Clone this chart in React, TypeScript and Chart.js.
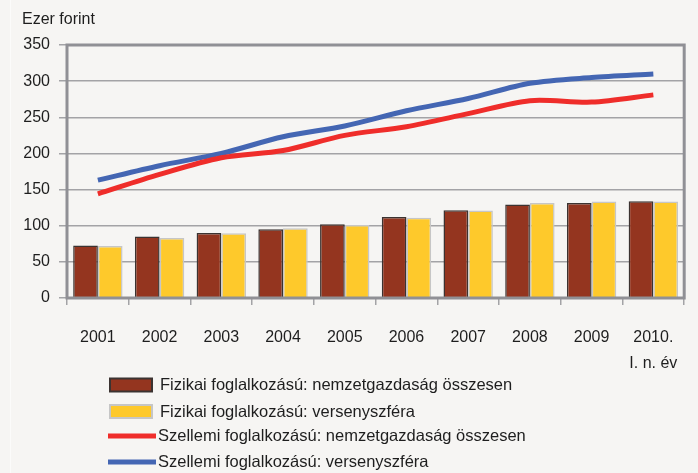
import React, { useEffect, useRef } from "react";
import { Chart, registerables } from "chart.js";

Chart.register(...registerables);

const categories: (string | string[])[] = [
  "2001", "2002", "2003", "2004", "2005", "2006", "2007", "2008", "2009", ["2010.", "I. n. év"],
];

const fizikaiNemzetgazdasag = [72.5, 85, 90, 95, 102, 112, 121.5, 129.5, 131.5, 134];
const fizikaiVersenyszfera = [72, 83, 89.5, 96.5, 101, 111, 121, 131.5, 133.5, 133.5];
const szellemiNemzetgazdasag = [144, 171, 194, 204, 225, 237, 255, 273, 271, 281];
const szellemiVersenyszfera = [163, 183, 200, 223, 238, 259, 276, 297, 305, 310];

const seriesNames = [
  "Fizikai foglalkozású: nemzetgazdaság összesen",
  "Fizikai foglalkozású: versenyszféra",
  "Szellemi foglalkozású: nemzetgazdaság összesen",
  "Szellemi foglalkozású: versenyszféra",
];

const yTicks = [0, 50, 100, 150, 200, 250, 300, 350];
const yTitle = "Ezer forint";

const FONT = '"Liberation Sans", Arial, sans-serif';
const TEXT = "#1e1e1e";
const GRID = "#a3a3a6";
const FRAME = "#909095";

const decor = {
  id: "decor",
  afterDatasetsDraw(chart: any) {
    const { ctx, chartArea } = chart;
    ctx.save();
    ctx.strokeStyle = FRAME;
    ctx.lineWidth = 3;
    ctx.strokeRect(chartArea.left, chartArea.top, chartArea.right - chartArea.left, chartArea.bottom - chartArea.top);
    ctx.restore();
  },
  afterDraw(chart: any) {
    const { ctx } = chart;
    ctx.save();
    ctx.font = `16px ${FONT}`;
    ctx.fillStyle = TEXT;
    ctx.textBaseline = "middle";
    ctx.textAlign = "left";
    ctx.fillText(yTitle, 22, 20);
    const rows = [385, 411.5, 436, 462];
    chart.data.datasets.forEach((ds: any, i: number) => {
      const y = rows[i];
      if (ds.type === "line") {
        ctx.strokeStyle = ds.borderColor;
        ctx.lineWidth = 5;
        ctx.beginPath();
        ctx.moveTo(108, y);
        ctx.lineTo(156, y);
        ctx.stroke();
      } else {
        ctx.fillStyle = ds.backgroundColor;
        ctx.fillRect(110, y - 6.5, 42, 13);
        ctx.strokeStyle = ds.borderColor;
        ctx.lineWidth = 2;
        ctx.strokeRect(110, y - 6.5, 42, 13);
      }
      ctx.fillStyle = TEXT;
      ctx.font = `16.5px ${FONT}`;
      ctx.textAlign = "left";
      ctx.textBaseline = "middle";
      ctx.fillText(ds.label, ds.type === "line" ? 158 : 160, y + 0.5);
    });
    ctx.restore();
  },
};

export default function App() {
  const ref = useRef<HTMLCanvasElement>(null);

  useEffect(() => {
    if (!ref.current) return;
    const chart = new Chart(ref.current, {
      type: "bar",
      data: {
        labels: categories as any,
        datasets: [
          {
            type: "bar",
            label: seriesNames[0],
            data: fizikaiNemzetgazdasag,
            backgroundColor: "#94351f",
            borderColor: "#3b3331",
            borderWidth: 1.5,
            categoryPercentage: 0.8,
            barPercentage: 1,
            order: 2,
          },
          {
            type: "bar",
            label: seriesNames[1],
            data: fizikaiVersenyszfera,
            backgroundColor: "#fec92b",
            borderColor: "#c6c6c6",
            borderWidth: 1.5,
            categoryPercentage: 0.8,
            barPercentage: 1,
            order: 2,
          },
          {
            type: "line",
            label: seriesNames[2],
            data: szellemiNemzetgazdasag,
            borderColor: "#ef2d2a",
            backgroundColor: "#ef2d2a",
            borderWidth: 5,
            pointRadius: 0,
            tension: 0.3,
            order: 1,
          },
          {
            type: "line",
            label: seriesNames[3],
            data: szellemiVersenyszfera,
            borderColor: "#4466b3",
            backgroundColor: "#4466b3",
            borderWidth: 5,
            pointRadius: 0,
            tension: 0.3,
            order: 1,
          },
        ] as any,
      },
      options: {
        responsive: false,
        animation: false,
        devicePixelRatio: 1,
        layout: { padding: { top: 45, right: 13, left: 0, bottom: 0 } },
        plugins: { legend: { display: false }, tooltip: { enabled: false } },
        scales: {
          x: {
            grid: { drawOnChartArea: false, tickLength: 7, color: GRID, lineWidth: 1.5, offset: true },
            border: { display: false },
            ticks: { font: { size: 16, family: FONT, lineHeight: 1.6 }, color: TEXT, padding: 20, maxRotation: 0, autoSkip: false },
            afterFit: (s: any) => { s.height = 175; },
          },
          y: {
            min: 0,
            max: 350,
            afterBuildTicks: (s: any) => { s.ticks = yTicks.map((v) => ({ value: v })); },
            grid: { color: GRID, lineWidth: 1.5, tickLength: 8 },
            border: { display: false },
            ticks: { font: { size: 16, family: FONT }, color: TEXT, padding: 9 },
            afterFit: (s: any) => { s.width = 67; },
          },
        },
      },
      plugins: [decor],
    });
    return () => chart.destroy();
  }, []);

  return (
    <div style={{ position: "absolute", left: 0, top: 0, width: 698, height: 473, background: "#f6f5f3", overflow: "hidden" }}>
      <div style={{ position: "absolute", left: 10, top: 0, width: 1, height: 473, background: "#fbfbfa" }} />
      <canvas ref={ref} width={698} height={473} style={{ display: "block", position: "absolute", left: 0, top: 0 }} />
    </div>
  );
}
